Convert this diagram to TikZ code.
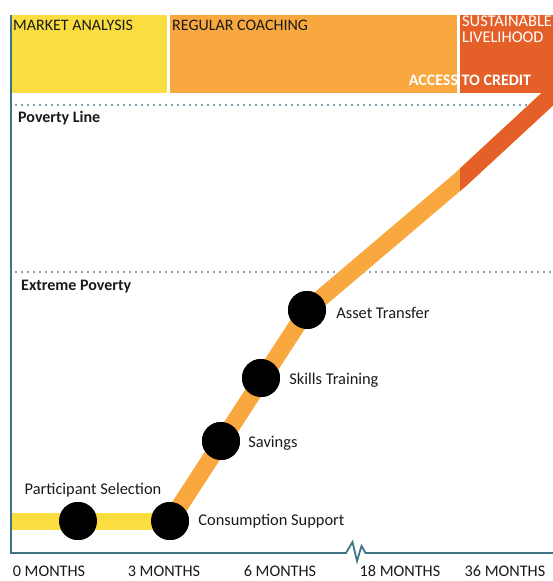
\documentclass[tikz,border=0pt]{standalone}
\usepackage{fontspec}
\setmainfont{Carlito}
\usepackage{tikz}
\usetikzlibrary{positioning}
\usepackage{xcolor}
\definecolor{BandYellow}{HTML}{FADE3F}
\definecolor{TrackOrange}{HTML}{F8A83F}
\definecolor{CreditOrange}{HTML}{E56028}
\definecolor{AxisTeal}{HTML}{3F7486}
\definecolor{DotGray}{HTML}{86A2AE}
\definecolor{InkBlack}{HTML}{1A1A1A}
\tikzset{%
  band_label/.style={%
    anchor=west,%
    inner sep=0pt,%
    color=InkBlack,%
    font={\fontsize{16}{17}\selectfont},%
  },
  band_white/.style={%
    inner sep=0pt,%
    color=white,%
    align=left,%
    font={\fontsize{16.4}{16}\selectfont},%
  },
  level_label/.style={%
    anchor=west,%
    inner sep=0pt,%
    color=InkBlack,%
    font={\fontsize{16}{19}\selectfont\bfseries},%
  },
  level_line/.style={%
    color=DotGray,%
    line width=1.6pt,%
    dash pattern=on 1.6pt off 4.4pt,%
  },
  milestone/.style={%
    circle,%
    fill=black,%
    inner sep=0pt,%
    minimum size=38pt,%
  },
  stage_label/.style={%
    inner sep=0pt,%
    color=InkBlack,%
    font={\fontsize{16.4}{19}\selectfont},%
  },
  month_label/.style={%
    inner sep=0pt,%
    color=InkBlack,%
    font={\fontsize{16.2}{19}\selectfont},%
  },
  track/.style={%
    line width=17pt,%
    line join=round,%
  },
  axis/.style={%
    color=AxisTeal,%
    line width=1.8pt,%
    line join=miter,%
  },
}
\begin{document}
\begin{tikzpicture}[x=1pt, y=-1pt]

    \useasboundingbox (0,0) rectangle (553,581);

    % phase bands along the top
    \fill [BandYellow] (12,15) rectangle (167,93);
    \fill [TrackOrange] (170,15) rectangle (457,93);
    \fill [CreditOrange] (460,15) rectangle (553,93);

    \node [band_label] (market) at (13,25) {MARKET ANALYSIS};
    \node [band_label] (coaching) at (172,25) {REGULAR COACHING};
    \node [band_white, anchor=north west] (livelihood) at (462,16)
      {SUSTAINABLE\\LIVELIHOOD};
    \node [band_white, font={\fontsize{16}{19}\selectfont\bfseries}]
      (credit) at (470,80) {ACCESS TO CREDIT};

    % poverty levels
    \coordinate (pl_start) at (15,105);
    \coordinate (pl_end) at (540,105);
    \coordinate (ep_start) at (15,272);
    \coordinate (ep_end) at (553,272);
    \draw [level_line] (pl_start) -- (pl_end);
    \draw [level_line] (ep_start) -- (ep_end);
    \node [level_label] (poverty) at (18,118) {Poverty Line};
    \node [level_label] (extreme) at (21,287) {Extreme Poverty};

    % milestones
    \node [milestone] (Selection) at (78,521) {};
    \node [milestone] (Support) at (170,521) {};
    \node [milestone] (Savings) at (221,441) {};
    \node [milestone] (Skills) at (261,378) {};
    \node [milestone] (Asset) at (307,310) {};
    \coordinate (track_start) at (11,521);
    \coordinate (credit_start) at (460,180);
    \coordinate (track_end) at (567,81);

    % graduation track
    \begin{scope}
      \clip (0,93) rectangle (553,581);
      \draw [track, BandYellow]
        (track_start)
        --
        (Support.center);
      \draw [track, TrackOrange]
        (Support.center)
        --
        (Asset.center)
        --
        (credit_start)
        --
        (track_end);
      \clip (credit_start |- 0,93) rectangle (553,581);
      \draw [track, CreditOrange]
        (Asset.center)
        --
        (credit_start)
        --
        (track_end);
    \end{scope}

    % redraw milestones over the track
    \foreach \stage in {Selection, Support, Savings, Skills, Asset}
      \fill (\stage) circle (19pt);

    \node [stage_label, above = 4pt of Selection, xshift=15pt]
      (selection_label) {Participant Selection};
    \node [stage_label, anchor=west, right = 9pt of Support]
      (support_label) {Consumption Support};
    \node [stage_label, anchor=west, right = 8pt of Savings, yshift=-2pt]
      (savings_label) {Savings};
    \node [stage_label, anchor=west, right = 9pt of Skills, yshift=-2pt]
      (skills_label) {Skills Training};
    \node [stage_label, anchor=west, right = 10pt of Asset, yshift=-3pt]
      (asset_label) {Asset Transfer};

    % axes with a break between 6 and 18 months
    \draw [axis]
      (11,15)
      --
      (11,553)
      --
      (346,553)
      --
      (352.5,542)
      --
      (357,561)
      --
      (361.5,546)
      --
      (365.5,553)
      --
      (553,553);

    \node [month_label] (m0) at (49,571) {0 MONTHS};
    \node [month_label] (m3) at (164,571) {3 MONTHS};
    \node [month_label] (m6) at (280,571) {6 MONTHS};
    \node [month_label] (m18) at (400,571) {18 MONTHS};
    \node [month_label] (m36) at (505,571) {36 MONTHS};

  \end{tikzpicture}
\end{document}
